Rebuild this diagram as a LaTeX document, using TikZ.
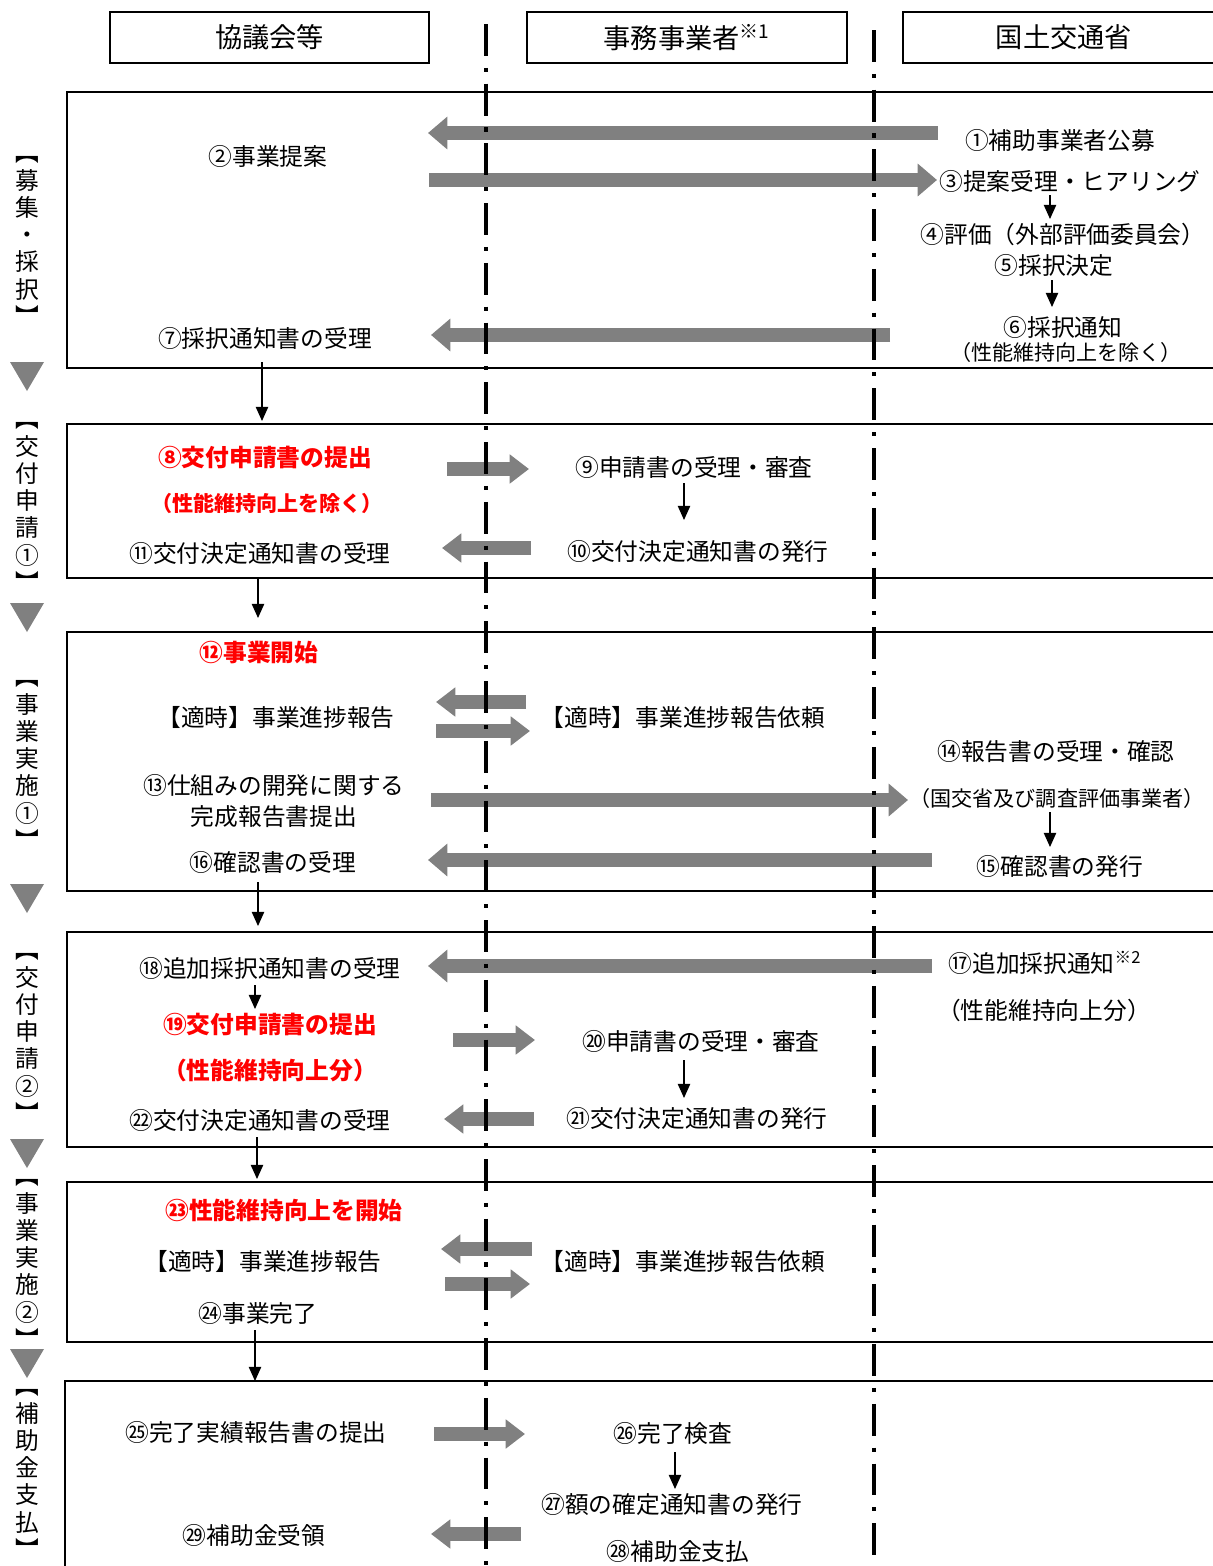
\documentclass[tikz,border=0pt]{standalone}
\usepackage{fontspec}
\setmainfont{Noto Sans CJK JP}
\usetikzlibrary{arrows.meta}

\begin{document}
\begin{tikzpicture}[x=0.02cm, y=-0.02cm,
    txt/.style={font=\fontsize{13.5}{18}\selectfont, inner sep=1pt},
    small/.style={font=\fontsize{12}{14}\selectfont, inner sep=1pt},
    hot/.style={txt, text=red, font=\fontsize{13.5}{18}\bfseries},
    hotsmall/.style={small, text=red, font=\fontsize{12}{14}\bfseries},
    head/.style={draw, line width=0.9pt, minimum height=1.02cm, font=\fontsize{15.5}{18}\selectfont},
    side/.style={align=center, font=\fontsize{13.5}{15.5}\selectfont, inner sep=0pt},
    phase/.style={line width=1.2pt},
    lane/.style={line width=2pt, dash pattern=on 18.1pt off 6.8pt on 2.3pt off 6.8pt},
    flow/.style={line width=0.7pt, -{Triangle[length=8pt,width=7pt]}},
    big/.style={gray, line width=8.5pt, -{Triangle[length=11pt,width=18pt]}},
    short/.style={gray, line width=8pt, -{Triangle[length=11pt,width=16pt]}}
]
    \useasboundingbox (0,0) rectangle (1213,1566);
    \clip (0,0) rectangle (1213,1566);

    % lanes
    \node[head, minimum width=6.38cm] (h1) at (269.5,37.5) {協議会等};
    \node[head, minimum width=6.40cm] (h2) at (687,37.5) {事務事業者\textsuperscript{※1}};
    \node[head, minimum width=6.44cm] (h3) at (1064,37.5) {国土交通省};

    % phases
    \draw[phase] (67,92) rectangle (1230,368);
    \draw[phase] (67,424) rectangle (1230,578);
    \draw[phase] (67,632) rectangle (1230,891);
    \draw[phase] (67,932) rectangle (1230,1147);
    \draw[phase] (67,1182) rectangle (1230,1342);
    \draw[phase] (65,1381) rectangle (1230,1580);

    \node[side] (s1) at (27,241) {︻\\募\\集\\・\\採\\択\\︼};
    \node[side] (s2) at (27,507) {︻\\交\\付\\申\\請\\①\\︼};
    \node[side] (s3) at (27,765) {︻\\事\\業\\実\\施\\①\\︼};
    \node[side] (s4) at (27,1038) {︻\\交\\付\\申\\請\\②\\︼};
    \node[side] (s5) at (27,1264) {︻\\事\\業\\実\\施\\②\\︼};
    \node[side] (s6) at (27,1474) {︻\\補\\助\\金\\支\\払\\︼};
    \foreach \y in {362,603,884,1139,1349}
        \fill[gray] (10,\y) -- (44,\y) -- (27,{\y+29}) -- cycle;

    % 募集・採択
    \node[txt] (p1) at (1060,140) {①補助事業者公募};
    \node[txt] (p2) at (268,156) {②事業提案};
    \node[txt] (p3) at (1070,181) {③提案受理・ヒアリング};
    \node[txt] (p4) at (1063,234) {④評価（外部評価委員会）};
    \node[txt] (p5) at (1054,265) {⑤採択決定};
    \node[txt] (p6) at (1063,327) {⑥採択通知};
    \node[small] (p6b) at (1066,352) {（性能維持向上を除く）};
    \node[txt] (p7) at (265,338) {⑦採択通知書の受理};

    \coordinate (g1a) at (938,133);
    \coordinate (g1b) at (428,133);
    \coordinate (g2a) at (429,180);
    \coordinate (g2b) at (937,180);
    \coordinate (g3a) at (890,335);
    \coordinate (g3b) at (431,335);
    \draw[big] (g1a) -- (g1b);
    \draw[big] (g2a) -- (g2b);
    \draw[big] (g3a) -- (g3b);
    \coordinate (k1a) at (1050,195);
    \coordinate (k1b) at (1050,219);
    \coordinate (k2a) at (1052,280);
    \coordinate (k2b) at (1052,307);
    \coordinate (k3a) at (262,362);
    \coordinate (k3b) at (262,421);
    \draw[flow] (k1a) -- (k1b);
    \draw[flow] (k2a) -- (k2b);
    \draw[flow] (k3a) -- (k3b);

    % 交付申請①
    \node[hot] (p8) at (265,457) {⑧交付申請書の提出};
    \node[hotsmall] (p8b) at (267,503) {（性能維持向上を除く）};
    \node[txt] (p9) at (694,467) {⑨申請書の受理・審査};
    \node[txt] (p10) at (698,551) {⑩交付決定通知書の発行};
    \node[txt] (p11) at (260,553) {⑪交付決定通知書の受理};

    \coordinate (g4a) at (447,469);
    \coordinate (g4b) at (529,469);
    \coordinate (g5a) at (531,548);
    \coordinate (g5b) at (442,548);
    \draw[short] (g4a) -- (g4b);
    \draw[short] (g5a) -- (g5b);
    \coordinate (k4a) at (684,483);
    \coordinate (k4b) at (684,520);
    \coordinate (k5a) at (258,578);
    \coordinate (k5b) at (258,618);
    \draw[flow] (k4a) -- (k4b);
    \draw[flow] (k5a) -- (k5b);

    % 事業実施①
    \node[hot] (p12) at (259,653) {⑫事業開始};
    \node[txt] (r1) at (276,718) {【適時】事業進捗報告};
    \node[txt] (q1) at (683,718) {【適時】事業進捗報告依頼};
    \node[txt, align=center] (p13) at (274,801) {⑬仕組みの開発に関する\\完成報告書提出};
    \node[txt] (p14) at (1056,752) {⑭報告書の受理・確認};
    \node[small] (p14b) at (1057,798) {（国交省及び調査評価事業者）};
    \node[txt] (p15) at (1060,866) {⑮確認書の発行};
    \node[txt] (p16) at (273,862) {⑯確認書の受理};

    \coordinate (g6a) at (526,702);
    \coordinate (g6b) at (436,702);
    \coordinate (g7a) at (436,731);
    \coordinate (g7b) at (530,731);
    \coordinate (g8a) at (431,800);
    \coordinate (g8b) at (908,800);
    \coordinate (g9a) at (932,860);
    \coordinate (g9b) at (428,860);
    \draw[short] (g6a) -- (g6b);
    \draw[short] (g7a) -- (g7b);
    \draw[big] (g8a) -- (g8b);
    \draw[big] (g9a) -- (g9b);
    \coordinate (k6a) at (1050,812);
    \coordinate (k6b) at (1050,847);
    \coordinate (k7a) at (258,882);
    \coordinate (k7b) at (258,926);
    \draw[flow] (k6a) -- (k6b);
    \draw[flow] (k7a) -- (k7b);

    % 交付申請②
    \node[txt] (p17) at (1045,963) {⑰追加採択通知\textsuperscript{※2}};
    \node[txt] (p17b) at (1044,1010) {（性能維持向上分）};
    \node[txt] (p18) at (270,968) {⑱追加採択通知書の受理};
    \node[hot] (p19) at (270,1024) {⑲交付申請書の提出};
    \node[hot] (p19b) at (270,1070) {（性能維持向上分）};
    \node[txt] (p20) at (701,1041) {⑳申請書の受理・審査};
    \node[txt] (p21) at (697,1118) {㉑交付決定通知書の発行};
    \node[txt] (p22) at (260,1120) {㉒交付決定通知書の受理};

    \coordinate (g10a) at (932,966);
    \coordinate (g10b) at (428,966);
    \coordinate (g11a) at (453,1040);
    \coordinate (g11b) at (535,1040);
    \coordinate (g12a) at (534,1119);
    \coordinate (g12b) at (444,1119);
    \draw[big] (g10a) -- (g10b);
    \draw[short] (g11a) -- (g11b);
    \draw[short] (g12a) -- (g12b);
    \coordinate (k8a) at (255,985);
    \coordinate (k8b) at (255,1009);
    \coordinate (k9a) at (684,1060);
    \coordinate (k9b) at (684,1098);
    \coordinate (k10a) at (257,1137);
    \coordinate (k10b) at (257,1179);
    \draw[flow] (k8a) -- (k8b);
    \draw[flow] (k9a) -- (k9b);
    \draw[flow] (k10a) -- (k10b);

    % 事業実施②
    \node[hot] (p23) at (284,1210) {㉓性能維持向上を開始};
    \node[txt] (r2) at (263,1262) {【適時】事業進捗報告};
    \node[txt] (q2) at (683,1262) {【適時】事業進捗報告依頼};
    \node[txt] (p24) at (258,1313) {㉔事業完了};

    \coordinate (g13a) at (532,1249);
    \coordinate (g13b) at (441,1249);
    \coordinate (g14a) at (445,1284);
    \coordinate (g14b) at (530,1284);
    \draw[short] (g13a) -- (g13b);
    \draw[short] (g14a) -- (g14b);
    \coordinate (k11a) at (255,1330);
    \coordinate (k11b) at (255,1381);
    \draw[flow] (k11a) -- (k11b);

    % 補助金支払
    \node[txt] (p25) at (256,1433) {㉕完了実績報告書の提出};
    \node[txt] (p26) at (673,1433) {㉖完了検査};
    \node[txt] (p27) at (672,1504) {㉗額の確定通知書の発行};
    \node[txt] (p28) at (678,1551) {㉘補助金支払};
    \node[txt] (p29) at (254,1535) {㉙補助金受領};

    \coordinate (g15a) at (434,1434);
    \coordinate (g15b) at (525,1434);
    \coordinate (g16a) at (521,1534);
    \coordinate (g16b) at (431,1534);
    \draw[short] (g15a) -- (g15b);
    \draw[short] (g16a) -- (g16b);
    \coordinate (k12a) at (675,1452);
    \coordinate (k12b) at (675,1489);
    \draw[flow] (k12a) -- (k12b);

    \draw[lane] (486,24) -- (486,1570);
    \draw[lane] (874,30) -- (874,1570);
\end{tikzpicture}
\end{document}
